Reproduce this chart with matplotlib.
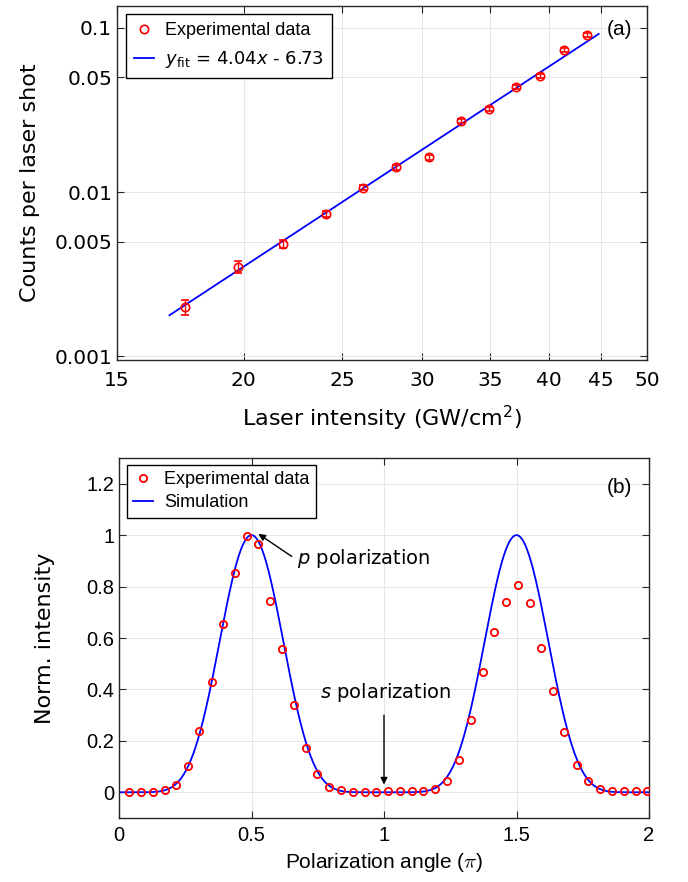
import numpy as np
import matplotlib
matplotlib.use("Agg")
import matplotlib.pyplot as plt
from matplotlib.lines import Line2D
from matplotlib.ticker import FixedLocator, FixedFormatter, NullLocator

# ---------------- data (a) ----------------
intensity = [17.49, 19.73, 21.87, 24.10, 26.20, 28.30, 30.50, 32.80, 34.90, 37.10, 39.20, 41.40, 43.60]
counts = [0.00200, 0.00350, 0.00484, 0.00739, 0.01065, 0.01413, 0.01626, 0.0270, 0.0320, 0.0436, 0.0509, 0.0733, 0.0906]
count_err = [0.00021, 0.00030, 0.00025, 0.00030, 0.00040, 0.00045, 0.00055, 0.0008, 0.0010, 0.0013, 0.0015, 0.0020, 0.0025]
fit_x = [16.9, 44.8]
fit_y = [0.00178, 0.0919]
xticks_a = [15, 20, 25, 30, 35, 40, 45, 50]
yticks_a = [0.001, 0.005, 0.01, 0.05, 0.1]
yticklabels_a = ["0.001", "0.005", "0.01", "0.05", "0.1"]

# ---------------- data (b) ----------------
angle = [0.039, 0.082, 0.127, 0.174, 0.216, 0.262, 0.303, 0.350, 0.394, 0.438, 0.482,
         0.526, 0.571, 0.615, 0.659, 0.706, 0.748, 0.794, 0.839, 0.883, 0.927, 0.971,
         1.016, 1.060, 1.104, 1.148, 1.194, 1.238, 1.283, 1.327, 1.372, 1.415, 1.460,
         1.506, 1.550, 1.594, 1.637, 1.681, 1.728, 1.771, 1.816, 1.860, 1.906, 1.950, 1.993]
norm_int = [0.000, 0.000, 0.003, 0.008, 0.030, 0.101, 0.240, 0.428, 0.653, 0.852, 0.998,
            0.964, 0.744, 0.557, 0.341, 0.172, 0.071, 0.022, 0.007, 0.000, 0.003, 0.003,
            0.004, 0.004, 0.004, 0.004, 0.013, 0.043, 0.124, 0.282, 0.468, 0.624, 0.739,
            0.808, 0.736, 0.561, 0.392, 0.236, 0.105, 0.043, 0.013, 0.004, 0.004, 0.004, 0.004]
sim_exponent = 7.3
xticks_b = [0, 0.5, 1, 1.5, 2]
xticklabels_b = ["0", "0.5", "1", "1.5", "2"]
yticks_b = [0, 0.2, 0.4, 0.6, 0.8, 1.0, 1.2]
yticklabels_b = ["0", "0.2", "0.4", "0.6", "0.8", "1", "1.2"]

sim_x = np.linspace(0, 2, 801)
sim_y = np.abs(np.sin(np.pi * sim_x)) ** sim_exponent

RED = (1, 0, 0)
BLUE = (0, 0, 1)
FRAME = (0.15, 0.15, 0.15)
GRIDC = (0.90, 0.90, 0.90)
ARIAL = "Liberation Sans"
DEJAVU = "DejaVu Sans"

fig = plt.figure(figsize=(6.88, 8.82), dpi=100)
axA = fig.add_axes([117/688, 1-360/882, 530/688, 354/882])
axB = fig.add_axes([119/688, 1-818/882, 530/688, 360/882])

def style(ax):
    for s in ax.spines.values():
        s.set_color(FRAME)
        s.set_linewidth(1.0)
    ax.tick_params(which="both", direction="in", top=True, right=True,
                   length=5, width=0.8, color=FRAME)
    ax.grid(True, color=GRIDC, linewidth=0.7)
    ax.set_axisbelow(True)

# ---------------- panel (a) ----------------
axA.set_xscale("log")
axA.set_yscale("log")
axA.errorbar(intensity, counts, yerr=count_err, fmt="o", mfc="none", mec=RED,
             ms=6, mew=1.2, ecolor=RED, elinewidth=1.0, capsize=3.2, capthick=1.0,
             zorder=3)
axA.plot(fit_x, fit_y, color=BLUE, lw=1.3, zorder=2)
axA.set_xlim(15, 50)
axA.set_ylim(9.5e-4, 0.136)
axA.xaxis.set_major_locator(FixedLocator(xticks_a))
axA.xaxis.set_major_formatter(FixedFormatter([str(v) for v in xticks_a]))
axA.xaxis.set_minor_locator(NullLocator())
axA.yaxis.set_major_locator(FixedLocator(yticks_a))
axA.yaxis.set_major_formatter(FixedFormatter(yticklabels_a))
axA.yaxis.set_minor_locator(NullLocator())
style(axA)
for lab in axA.get_xticklabels() + axA.get_yticklabels():
    lab.set_fontfamily(DEJAVU)
    lab.set_fontsize(14.5)
axA.tick_params(axis="x", pad=8)
axA.set_xlabel(r"Laser intensity (GW/cm$^2$)", fontsize=16, family=DEJAVU, labelpad=10)
axA.set_ylabel("Counts per laser shot", fontsize=16, family=DEJAVU)
axA.yaxis.set_label_coords(-0.145, 0.5)
axA.text(0.948, 0.935, "(a)", transform=axA.transAxes, ha="center", va="center",
         fontsize=15, family=ARIAL)
hA = [Line2D([], [], ls="none", marker="o", mfc="none", mec=RED, ms=6, mew=1.2),
      Line2D([], [], color=BLUE, lw=1.3)]
legA = axA.legend(hA, ["Experimental data", r"$y_{\mathrm{fit}}$ = 4.04$x$ - 6.73"],
                  loc="upper left", bbox_to_anchor=(0.017, 0.977), frameon=True,
                  fancybox=False, edgecolor="black", framealpha=1,
                  prop={"family": ARIAL, "size": 13}, handlelength=1.1,
                  handletextpad=0.6, borderpad=0.45, labelspacing=0.55,
                  borderaxespad=0)
legA.get_frame().set_linewidth(1.0)
legA.get_texts()[1].set_fontfamily(DEJAVU)

# ---------------- panel (b) ----------------
axB.plot(angle, norm_int, "o", mfc="none", mec=RED, ms=5.2, mew=1.3,
         label="Experimental data", zorder=3)
axB.plot(sim_x, sim_y, color=BLUE, lw=1.3, label="Simulation", zorder=2)
axB.set_xlim(0, 2)
axB.set_ylim(-0.1, 1.3)
axB.xaxis.set_major_locator(FixedLocator(xticks_b))
axB.xaxis.set_major_formatter(FixedFormatter(xticklabels_b))
axB.yaxis.set_major_locator(FixedLocator(yticks_b))
axB.yaxis.set_major_formatter(FixedFormatter(yticklabels_b))
style(axB)
for lab in axB.get_xticklabels() + axB.get_yticklabels():
    lab.set_fontfamily(ARIAL)
    lab.set_fontsize(14.5)
axB.tick_params(axis="x", pad=6)
axB.set_xlabel(r"Polarization angle ($\pi$)", fontsize=15, family=ARIAL,
               math_fontfamily="cm", labelpad=4)
axB.set_ylabel("Norm. intensity", fontsize=16, family=DEJAVU)
axB.yaxis.set_label_coords(-0.12, 0.5)
axB.text(0.944, 0.919, "(b)", transform=axB.transAxes, ha="center", va="center",
         fontsize=15, family=ARIAL)
axB.annotate("", xy=(0.526, 1.005), xytext=(0.652, 0.917),
             arrowprops=dict(arrowstyle="-|>", color="black", lw=1.0,
                             mutation_scale=10, shrinkA=0, shrinkB=0))
axB.text(0.672, 0.91, r"$p$ polarization", fontsize=14, family=DEJAVU,
         ha="left", va="center")
axB.text(1.005, 0.39, r"$s$ polarization", fontsize=14, family=DEJAVU,
         ha="center", va="center")
axB.annotate("", xy=(1.0, 0.03), xytext=(1.0, 0.30),
             arrowprops=dict(arrowstyle="-|>", color="black", lw=1.0,
                             mutation_scale=10, shrinkA=0, shrinkB=0))
legB = axB.legend(loc="upper left", bbox_to_anchor=(0.015, 0.981), frameon=True,
                  fancybox=False, edgecolor="black", framealpha=1,
                  prop={"family": ARIAL, "size": 13}, handlelength=1.1,
                  handletextpad=0.6, borderpad=0.35, labelspacing=0.35,
                  borderaxespad=0)
legB.get_frame().set_linewidth(1.0)

fig.savefig("out.png", dpi=100)
